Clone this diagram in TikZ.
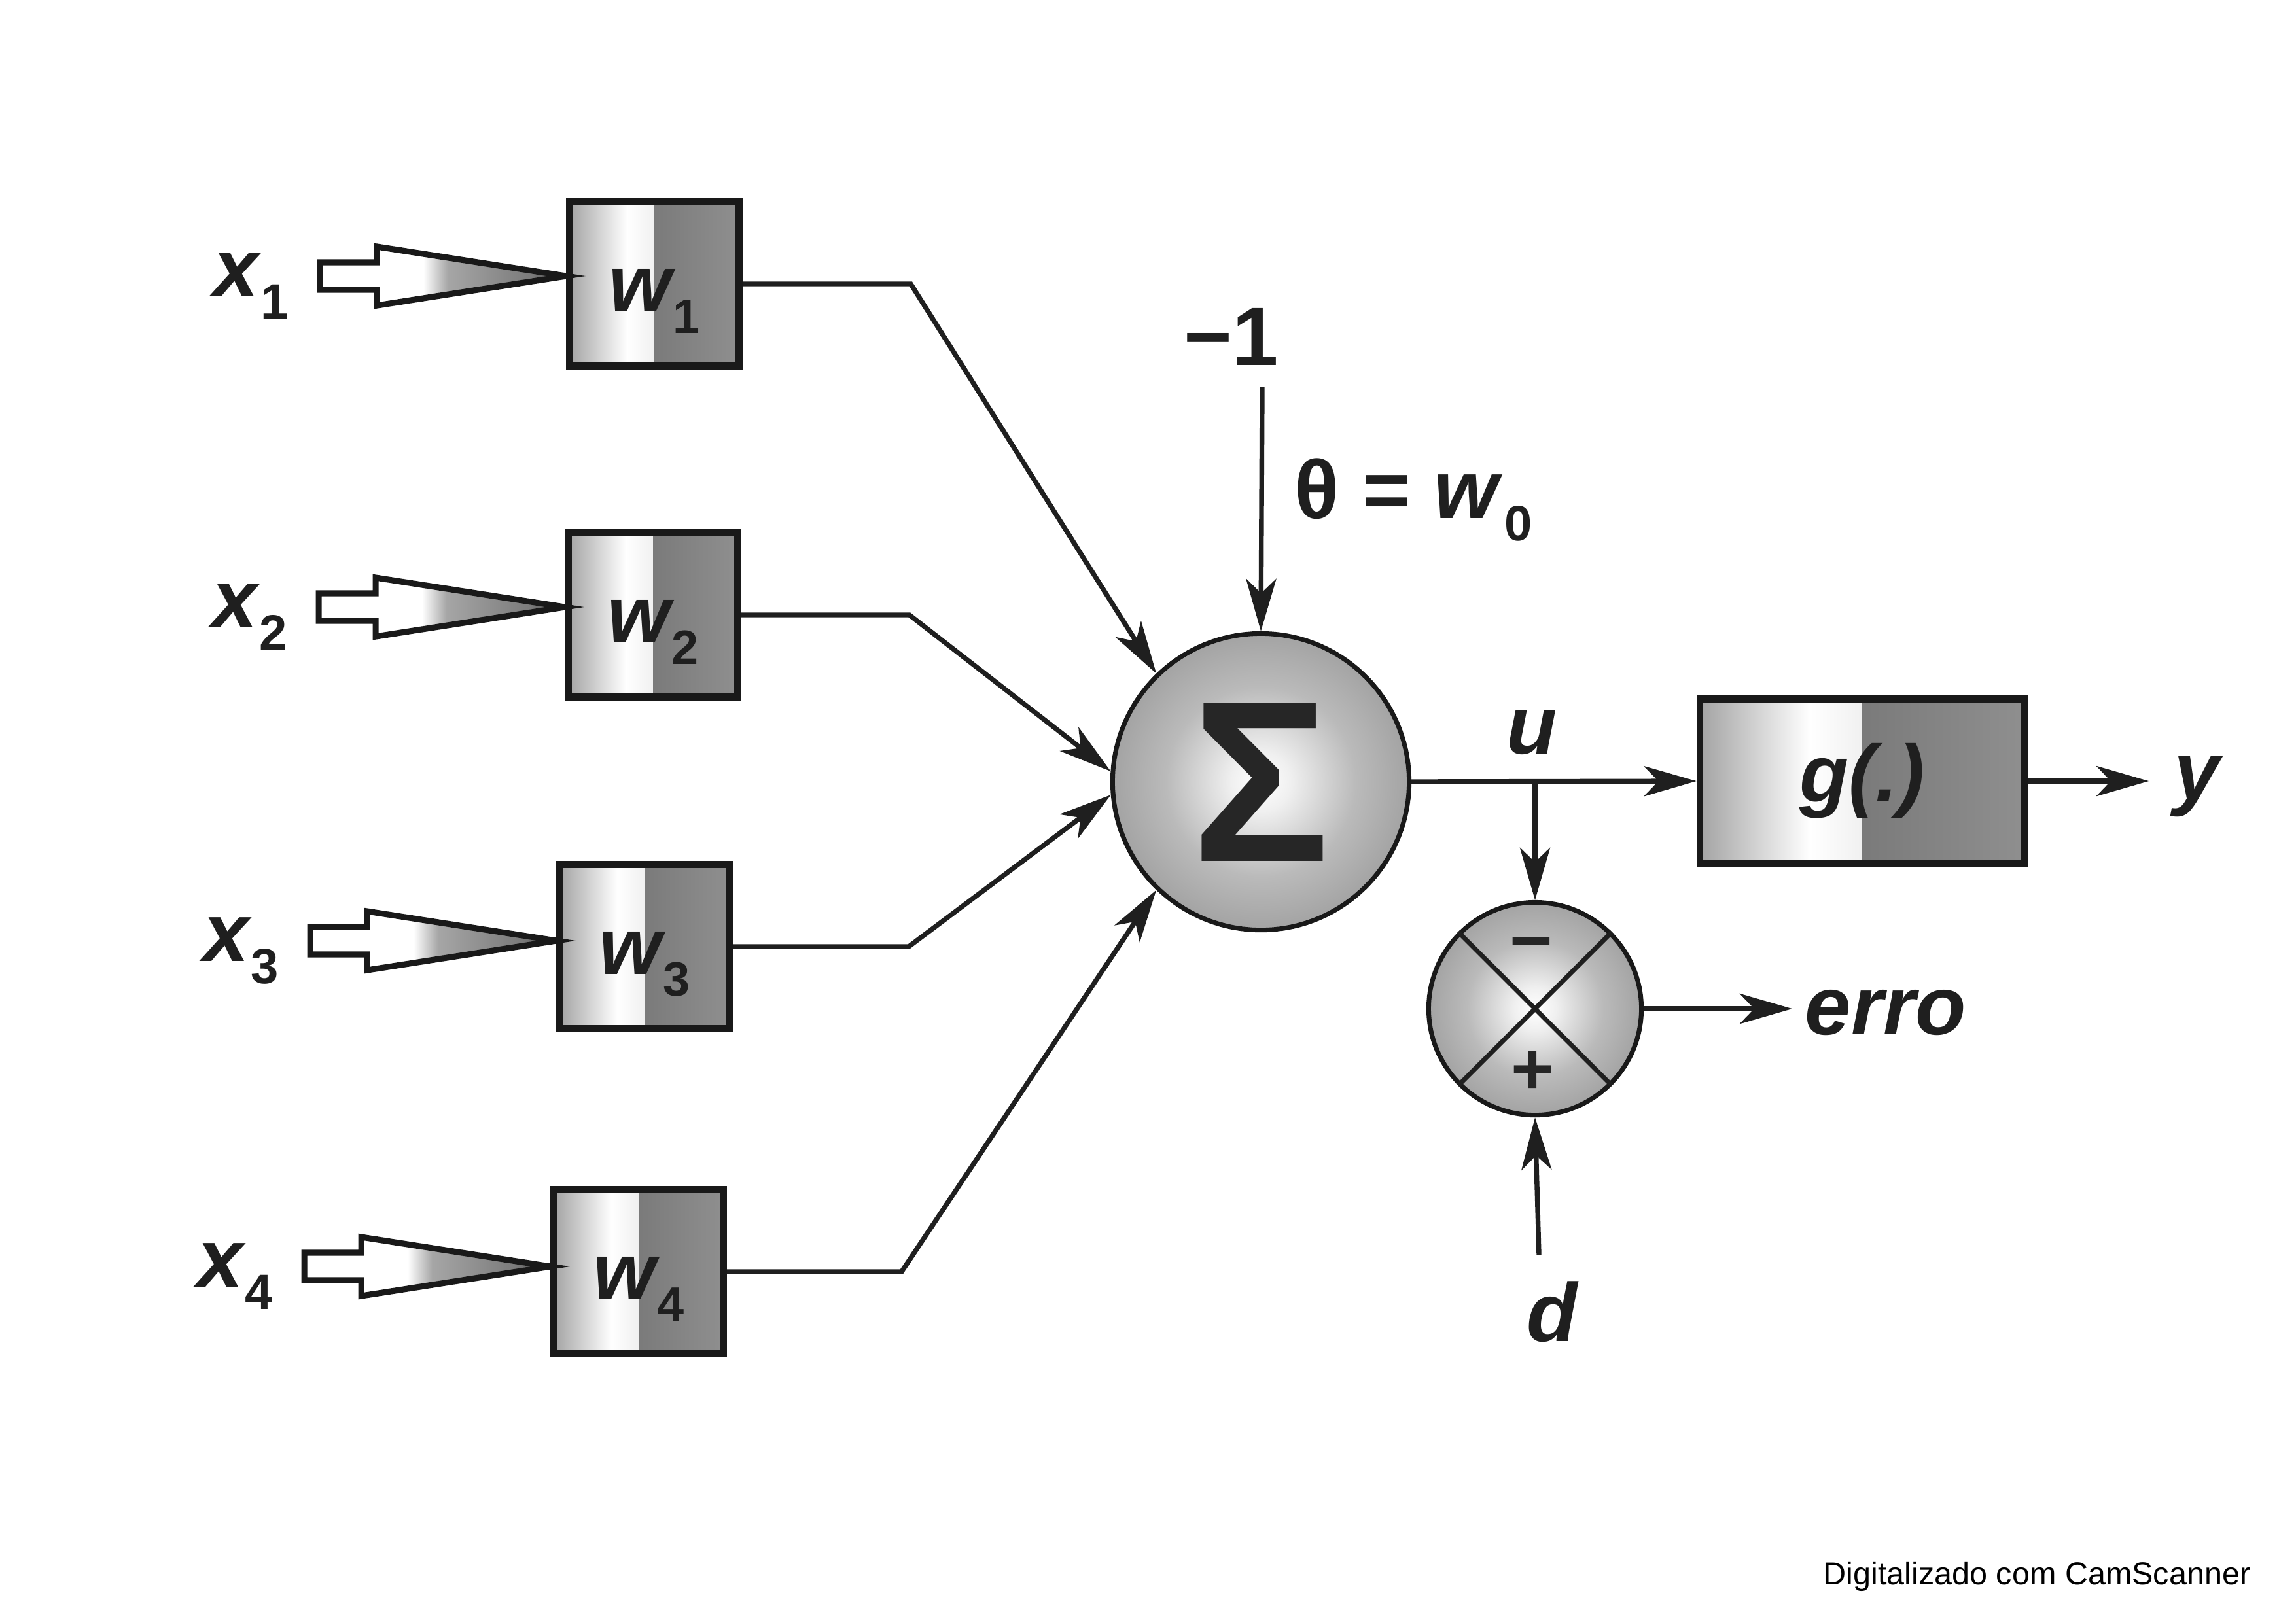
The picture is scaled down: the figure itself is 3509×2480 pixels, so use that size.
\documentclass[tikz,border=0pt]{standalone}
\usepackage{fontspec}
\usepackage{graphicx}
\setmainfont{Liberation Sans}
\usetikzlibrary{arrows.meta,calc}
\pgfdeclarehorizontalshading{boxleft}{100bp}{color(0bp)=(black!36); color(25bp)=(black!36); color(42bp)=(white); color(56bp)=(black!10); color(75bp)=(black!30); color(100bp)=(black!30)}
\pgfdeclarehorizontalshading{boxright}{100bp}{color(0bp)=(black!52); color(25bp)=(black!52); color(75bp)=(black!44); color(100bp)=(black!44)}
\pgfdeclareradialshading{sumsh}{\pgfpoint{0bp}{0bp}}{color(0bp)=(white); color(5bp)=(black!6); color(16bp)=(black!27); color(25bp)=(black!36); color(50bp)=(black!36)}
\pgfdeclarehorizontalshading{hollowsh}{100bp}{color(0bp)=(white); color(25bp)=(white); color(46bp)=(white); color(51bp)=(black!35); color(68bp)=(black!52); color(75bp)=(black!72); color(100bp)=(black!72)}
\newcommand\lsub[1]{\kern0.02em\raisebox{-0.27em}{\scalebox{0.6}{\upshape #1}}}
\newcommand\hollowarrow[1]{\shadedraw[hollow] (#1) ++(-376,-21) -- ++(87,0) -- ++(0,-24) -- (#1) -- ++(-289,45) -- ++(0,-24) -- ++(-87,0) -- cycle;}
\begin{document}
\begin{tikzpicture}[x=0.01cm,y=-0.01cm,
  conn/.style={line width=2.1pt, draw=black!88, -{Stealth[length=0.8cm,width=0.46cm,inset=0.22cm]}},
  plain/.style={line width=2pt, draw=black!88},
  lab/.style={text=black!88, inner sep=0pt, font=\fontsize{36}{38}\selectfont\bfseries\itshape},
  wbox/.style={draw=black!90, line width=3pt, minimum width=2.59cm, minimum height=2.51cm, inner sep=0pt, text height=24pt, text depth=0pt, text=black!88, font=\fontsize{35}{38}\selectfont\bfseries\itshape, path picture={
    \shade[shading=boxleft] (path picture bounding box.north west) rectangle ($(path picture bounding box.south west)!0.5!(path picture bounding box.south east)$);
    \shade[shading=boxright] ($(path picture bounding box.north west)!0.5!(path picture bounding box.north east)$) rectangle (path picture bounding box.south east);}},
  sumnode/.style={circle, draw=black!90, line width=2pt, shade, shading=sumsh, inner sep=0pt},
  hollow/.style={draw=black!90, line width=2.6pt, line join=miter, shading=hollowsh},
  signlab/.style={text=black!85, inner sep=0pt, font=\fontsize{32}{34}\selectfont\bfseries}
]
\useasboundingbox (0,0) rectangle (3509,2480);
\fill[white] (0,0) rectangle (3509,2480);

% weight boxes
\node[wbox] (w1) at (1000,434) {w\lsub{1}};
\node[wbox] (w2) at (998,940) {w\lsub{2}};
\node[wbox] (w3) at (985,1447) {w\lsub{3}};
\node[wbox] (w4) at (976,1944) {w\lsub{4}};

% summation and activation
\node[sumnode, minimum size=4.53cm, font=\fontsize{100}{102}\selectfont\bfseries, text=black!85] (sigma) at (1927,1195) {Σ};
\node[wbox, minimum width=4.96cm, minimum height=2.51cm, text height=18pt, text depth=0pt] (g) at (2846,1194) {g(.)};
\node[sumnode, minimum size=3.25cm] (err) at (2346,1542) {};
\draw[plain] (err.45) -- (err.225);
\draw[plain] (err.135) -- (err.315);
\node[signlab] (minus) at (2340,1455) {−};
\node[signlab] (plus) at (2342,1639) {+};

% hollow input arrows and labels
\coordinate (t1) at ($(w1.west)+(0,-12)$);
\coordinate (t2) at ($(w2.west)+(0,-12)$);
\coordinate (t3) at ($(w3.west)+(0,-9)$);
\coordinate (t4) at ($(w4.west)+(0,-8)$);
\hollowarrow{t1}
\hollowarrow{t2}
\hollowarrow{t3}
\hollowarrow{t4}
\node[lab, anchor=base east] (x1) at ($(t1)+(-424,31)$) {x\lsub{1}};
\node[lab, anchor=base east] (x2) at ($(t2)+(-424,31)$) {x\lsub{2}};
\node[lab, anchor=base east] (x3) at ($(t3)+(-424,31)$) {x\lsub{3}};
\node[lab, anchor=base east] (x4) at ($(t4)+(-424,31)$) {x\lsub{4}};

% weighted connections
\draw[conn] (w1.east) -- ++(257,0) -- (sigma.134);
\draw[conn] (w2.east) -- ++(257,0) -- (sigma.176);
\draw[conn] (w3.east) -- ++(269,0) -- (sigma.185);
\draw[conn] (w4.east) -- ++(267,0) -- (sigma.226);

% bias
\node[text=black!88, inner sep=0pt, font=\fontsize{36}{38}\selectfont\bfseries, anchor=base east] (m1) at (1955,558) {−1};
\coordinate (b0) at (1929,592);
\draw[conn] (b0) -- (sigma.north);
\node[text=black!88, inner sep=0pt, font=\fontsize{36}{38}\selectfont\bfseries, anchor=base west] (theta) at (1978,792) {θ = \textit{w}\lsub{0}};

% output
\coordinate (j) at (sigma.east -| err.north);
\draw[conn] (sigma.east) -- (g.west);
\draw[conn] (j) -- (err.north);
\node[lab] (u) at (2341,1120) {u};
\coordinate (ytip) at (3284,1194);
\draw[conn] (g.east) -- (ytip);
\node[lab, anchor=base] (y) at (3358,1222) {y};

% error
\coordinate (etip) at (2739,1542);
\draw[conn] (err.east) -- (etip);
\node[lab, anchor=base west] (erro) at (2758,1581) {erro};
\coordinate (d0) at (2352,1918);
\draw[conn] (d0) -- (err.south);
\node[lab, anchor=base] (d) at (2372,2050) {d};

\node[anchor=base east, inner sep=0pt, font=\fontsize{13.8}{16}\selectfont] (cs) at (3440,2422) {Digitalizado com CamScanner};
\end{tikzpicture}
\end{document}
